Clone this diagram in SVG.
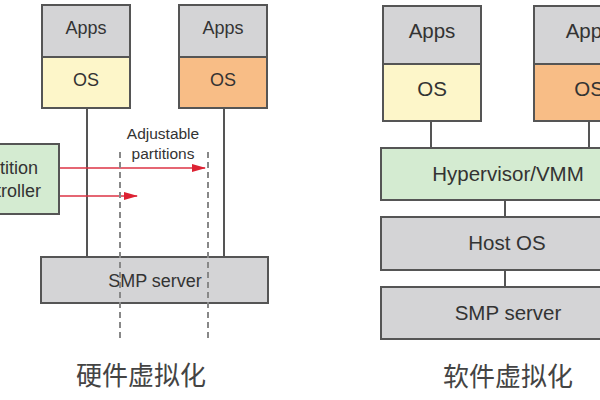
<svg xmlns="http://www.w3.org/2000/svg" width="600" height="400" viewBox="0 0 600 400">
<style>
.box{stroke:#555;stroke-width:2}
.gray{fill:#d4d4d6}
.yel{fill:#fdf6c9}
.org{fill:#f8bd86}
.grn{fill:#d4ebd1}
.t{font-family:"Liberation Sans",Arial,sans-serif;fill:#333;text-anchor:middle}
.s{font-size:18px}
.l{font-size:20.5px}
.cap{font-family:"Noto Sans CJK SC",sans-serif;font-size:26px;fill:#444;text-anchor:middle}
.conn{stroke:#555;stroke-width:2;fill:none}
.dash{stroke:#888;stroke-width:2;stroke-dasharray:6 4;fill:none}
.red{stroke:#dd3344;stroke-width:1.6;fill:none}
</style>
<defs>
<marker id="ah" markerWidth="14" markerHeight="10" refX="13" refY="5" orient="auto" markerUnits="userSpaceOnUse">
<path d="M0,1 L14,5 L0,9 Z" fill="#dd2233"/>
</marker>
</defs>
<rect width="600" height="400" fill="#fff"/>

<g id="connectors">
<line class="conn" x1="87" y1="108" x2="87" y2="257"/>
<line class="conn" x1="224" y1="108" x2="224" y2="257"/>
<line class="red" x1="59" y1="168" x2="205" y2="168" marker-end="url(#ah)"/>
<line class="red" x1="59" y1="196" x2="137" y2="196" marker-end="url(#ah)"/>
<line class="conn" x1="431" y1="121" x2="431" y2="148"/>
<line class="conn" x1="589" y1="121" x2="589" y2="148"/>
<line class="conn" x1="505" y1="200" x2="505" y2="217"/>
<line class="conn" x1="505" y1="270" x2="505" y2="287"/>
</g>

<g id="hw-vm1">
<rect class="box gray" x="42" y="5" width="88" height="52"/>
<text class="t s" x="86" y="34">Apps</text>
<rect class="box yel" x="42" y="57" width="88" height="51"/>
<text class="t s" x="86" y="86">OS</text>
</g>
<g id="hw-vm2">
<rect class="box gray" x="179" y="5" width="88" height="52"/>
<text class="t s" x="223" y="34">Apps</text>
<rect class="box org" x="179" y="57" width="88" height="51"/>
<text class="t s" x="223" y="86">OS</text>
</g>
<g id="partition-controller">
<rect class="box grn" x="-50" y="144" width="109" height="70"/>
<text class="t s" x="5" y="174">Partition</text>
<text class="t s" x="4" y="197">controller</text>
</g>
<g id="hw-smp">
<rect class="box gray" x="41" y="257" width="227" height="46"/>
<text class="t s" x="155" y="287">SMP server</text>
</g>
<g id="partitions">
<line class="dash" x1="120" y1="152" x2="120" y2="342"/>
<line class="dash" x1="208" y1="152" x2="208" y2="342"/>
<text class="t" style="font-size:15.5px" x="163" y="139">Adjustable</text>
<text class="t" style="font-size:15.5px" x="163" y="159">partitions</text>
</g>
<text class="cap" x="141" y="385">硬件虚拟化</text>

<g id="sw-vm1">
<rect class="box gray" x="383" y="6" width="98" height="58"/>
<text class="t l" x="432" y="38">Apps</text>
<rect class="box yel" x="383" y="64" width="98" height="57"/>
<text class="t l" x="432" y="96">OS</text>
</g>
<g id="sw-vm2">
<rect class="box gray" x="534" y="6" width="110" height="58"/>
<text class="t l" x="589" y="38">Apps</text>
<rect class="box org" x="534" y="64" width="110" height="57"/>
<text class="t l" x="589" y="96">OS</text>
</g>
<g id="hypervisor">
<rect class="box grn" x="381" y="148" width="250" height="52"/>
<text class="t l" x="508" y="181">Hypervisor/VMM</text>
</g>
<g id="host-os">
<rect class="box gray" x="381" y="217" width="250" height="53"/>
<text class="t l" x="507" y="250">Host OS</text>
</g>
<g id="sw-smp">
<rect class="box gray" x="381" y="287" width="250" height="52"/>
<text class="t l" x="508" y="320">SMP server</text>
</g>
<text class="cap" x="508" y="386">软件虚拟化</text>
</svg>
